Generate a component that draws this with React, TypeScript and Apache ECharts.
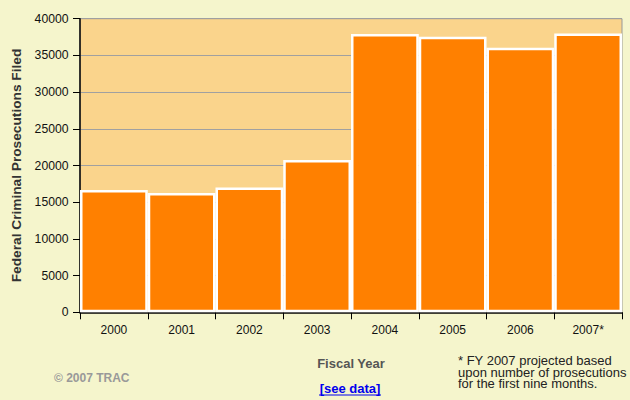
import React, { useEffect, useRef } from "react";
import * as echarts from "echarts";

const categories = ["2000", "2001", "2002", "2003", "2004", "2005", "2006", "2007*"];
const prosecutions = [16650, 16250, 17000, 20750, 37900, 37550, 36050, 38000];
const yTicks = { min: 0, max: 40000, interval: 5000 };
const footnoteLines = [
  "* FY 2007 projected based",
  "upon number of prosecutions",
  "for the first nine months.",
];

const FONT = "'Liberation Sans', Arial, Helvetica, sans-serif";

export default function App() {
  const ref = useRef<HTMLDivElement>(null);
  useEffect(() => {
    if (!ref.current) return;
    const chart = echarts.init(ref.current, null, { renderer: "svg" });
    chart.setOption({
      animation: false,
      backgroundColor: "#F5F5CC",
      textStyle: { fontFamily: FONT },
      grid: {
        left: 80,
        right: 8,
        top: 18.7,
        bottom: 87.7,
        show: true,
        backgroundColor: "#FAD48C",
        borderColor: "#999999",
        borderWidth: 1,
      },
      xAxis: {
        type: "category",
        data: categories,
        boundaryGap: true,
        axisLine: { lineStyle: { color: "#000", width: 1.5 } },
        axisTick: { show: true, length: 7, alignWithLabel: false, lineStyle: { color: "#000" } },
        axisLabel: { color: "#111", fontSize: 12, margin: 12, fontFamily: FONT },
      },
      yAxis: {
        type: "value",
        min: yTicks.min,
        max: yTicks.max,
        interval: yTicks.interval,
        name: "Federal Criminal Prosecutions Filed",
        nameLocation: "middle",
        nameGap: 54,
        nameTextStyle: { color: "#333", fontSize: 13.7, fontWeight: "bold", fontFamily: FONT },
        axisLine: { show: true, lineStyle: { color: "#000", width: 1.5 } },
        axisTick: { show: true, length: 7, lineStyle: { color: "#000" } },
        axisLabel: {
          color: "#111",
          fontSize: 12.2,
          margin: 11.5,
          fontFamily: FONT,
          formatter: (v: number) => String(v),
        },
        splitLine: { show: true, lineStyle: { color: "#A0A0A0", width: 1 } },
      },
      series: [
        {
          type: "bar",
          data: prosecutions,
          barCategoryGap: "0%",
          itemStyle: { color: "#FF8000", borderColor: "#FFFFFF", borderWidth: 2.5 },
        },
      ],
      graphic: [
        {
          type: "text",
          x: 351,
          y: 363,
          style: {
            text: "Fiscal Year",
            fill: "#555",
            font: `bold 13px ${FONT}`,
            textAlign: "center",
            textVerticalAlign: "middle",
          },
        },
        {
          type: "text",
          x: 350,
          y: 388,
          style: {
            text: "[see data]",
            fill: "#0000EE",
            font: `bold 13px ${FONT}`,
            textAlign: "center",
            textVerticalAlign: "middle",
          },
        },
        {
          type: "line",
          shape: { x1: 319, y1: 395, x2: 381, y2: 395 },
          style: { stroke: "#0000EE", lineWidth: 1 },
        },
        {
          type: "text",
          x: 54,
          y: 378,
          style: {
            text: "© 2007 TRAC",
            fill: "#999",
            font: `bold 12px ${FONT}`,
            textVerticalAlign: "middle",
          },
        },
        {
          type: "text",
          x: 458,
          y: 355,
          style: {
            text: footnoteLines.join("\n"),
            fill: "#222",
            font: `13px ${FONT}`,
            lineHeight: 11.4,
            textVerticalAlign: "top",
          },
        },
      ],
    });
    return () => chart.dispose();
  }, []);
  return <div ref={ref} style={{ width: 630, height: 400, position: "absolute", left: 0, top: 0 }} />;
}
